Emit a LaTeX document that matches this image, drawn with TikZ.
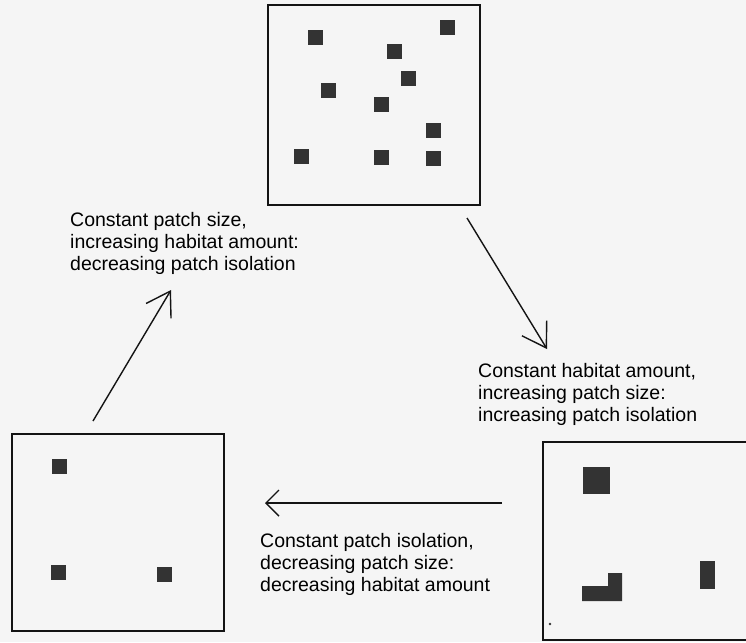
\documentclass[tikz,border=0pt]{standalone}
\usepackage{fontspec}
\setmainfont{Liberation Sans}
\usetikzlibrary{arrows.meta}
\begin{document}
\begin{tikzpicture}[x=1pt,y=-1pt,
  frame/.style={draw=black!92, line width=1.9pt, fill=none, inner sep=0pt},
  patch/.style={fill=black!80, draw=none, minimum size=15pt, inner sep=0pt},
  caption/.style={align=left, anchor=north west, inner sep=0pt,
    font=\fontsize{19.5}{22}\selectfont, text=black},
  flow/.style={draw=black!92, line width=1.4pt},
  longtip/.style={-{Straight Barb[length=23pt,width=29pt]}},
  shorttip/.style={-{Straight Barb[length=13pt,width=26pt]}},
]
\useasboundingbox (0,0) rectangle (746,642);
\fill[black!4] (0,0) rectangle (746,642);
\clip (0,0) rectangle (746,642);

% landscape frames
\node[frame, minimum width=212pt, minimum height=200pt] (land1) at (374,105) {};
\node[frame, minimum width=212pt, minimum height=197pt] (land3) at (118,532.5) {};
\node[frame, minimum width=224pt, minimum height=198pt] (land2) at (655,541) {};

% many small patches
\foreach \px/\py [count=\i] in {315.5/38, 447/28, 394.5/51.5, 408.5/78.5, 328.5/90.5,
    381.5/104.5, 433.5/130.5, 301.5/156, 381/157, 433.5/158}
  \node[patch] (p1-\i) at (\px,\py) {};

% few large patches
\node[patch, minimum size=27pt] (p2-1) at (596.5,480.5) {};
\node[patch, minimum width=15pt, minimum height=28pt] (p2-2) at (707.5,575) {};
\fill[black!80] (582,601) -- (582,586) -- (608,586) -- (608,573) -- (622,573) -- (622,601) -- cycle;
\fill[black!80] (550,624) circle (1.3pt);

% few small patches
\node[patch] (p3-1) at (59.5,466.5) {};
\node[patch] (p3-2) at (58.5,572.5) {};
\node[patch] (p3-3) at (164.5,574.5) {};

% transitions
\coordinate (a1s) at (467,218);
\coordinate (a1e) at (547,349);
\coordinate (a2s) at (502,503);
\coordinate (a2e) at (265,503);
\coordinate (a3s) at (93,421);
\coordinate (a3e) at (171,290);
\draw[flow, longtip] (a1s) -- (a1e);
\draw[flow, shorttip] (a2s) -- (a2e);
\draw[flow, longtip] (a3s) -- (a3e);

% captions
\node[caption] (t1) at (70,212) {Constant patch size,\\increasing habitat amount:\\decreasing patch isolation};
\node[caption] (t2) at (478,363) {Constant habitat amount,\\increasing patch size:\\increasing patch isolation};
\node[caption] (t3) at (260,533) {Constant patch isolation,\\decreasing patch size:\\decreasing habitat amount};
\end{tikzpicture}
\end{document}
